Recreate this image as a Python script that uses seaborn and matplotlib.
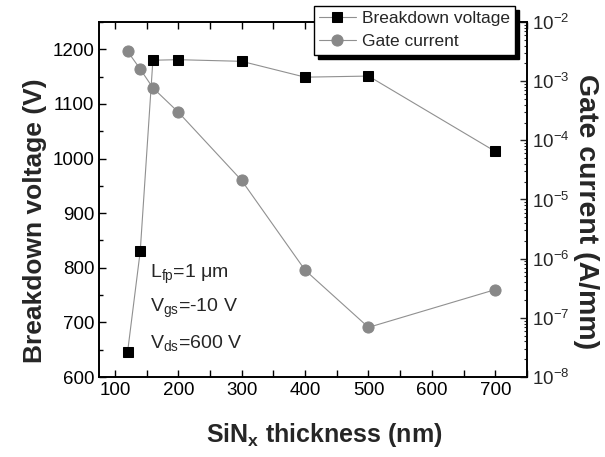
import matplotlib
matplotlib.use("Agg")
import matplotlib.pyplot as plt
import seaborn as sns
import pandas as pd
import numpy as np
from matplotlib.ticker import MultipleLocator, LogLocator, NullFormatter

thick_bv = [120, 140, 160, 200, 300, 400, 500, 700]
breakdown_v = [645, 830, 1180, 1181, 1178, 1149, 1151, 1013]
thick_ig = [120, 140, 160, 200, 300, 400, 500, 700]
gate_current = [3.2e-3, 1.6e-3, 7.7e-4, 3.0e-4, 2.1e-5, 6.4e-7, 6.9e-8, 3.0e-7]

sns.set_style("ticks")
plt.rcParams['font.family'] = ['Liberation Sans', 'DejaVu Sans']
plt.rcParams['mathtext.fontset'] = 'custom'
plt.rcParams['mathtext.rm'] = 'Liberation Sans'
plt.rcParams['mathtext.it'] = 'Liberation Sans'
plt.rcParams['mathtext.bf'] = 'Liberation Sans:bold'

df1 = pd.DataFrame({"x": thick_bv, "y": breakdown_v})
df2 = pd.DataFrame({"x": thick_ig, "y": gate_current})

fig = plt.figure(figsize=(6.05, 4.57), dpi=100)
ax = fig.add_axes([99/605, 1 - 377/457, (527-99)/605, (377-22)/457])
ax2 = ax.twinx()

sns.lineplot(data=df1, x="x", y="y", ax=ax, color="#909090", linewidth=0.8,
             marker="s", markersize=7, markerfacecolor="black", markeredgecolor="black",
             label="Breakdown voltage", legend=False)
sns.lineplot(data=df2, x="x", y="y", ax=ax2, color="#909090", linewidth=0.8,
             marker="o", markersize=8, markerfacecolor="#888888", markeredgecolor="#888888",
             label="Gate current", legend=False)

ax.set_xlim(75, 750)
ax.set_ylim(600, 1250)
ax2.set_yscale("log")
ax2.set_ylim(1e-8, 1e-2)

ax.xaxis.set_minor_locator(MultipleLocator(50))
ax.yaxis.set_major_locator(MultipleLocator(100))
ax.yaxis.set_minor_locator(MultipleLocator(50))
ax.set_xticks([100, 200, 300, 400, 500, 600, 700])
ax.tick_params(axis="both", which="both", direction="in", labelsize=13.5,
               top=True, colors="black")
ax.tick_params(axis="both", which="major", length=5, width=1)
ax.tick_params(axis="both", which="minor", length=5, width=1)
ax.tick_params(axis="y", which="minor", length=3)
ax2.yaxis.set_major_locator(LogLocator(base=10, numticks=10))
ax2.yaxis.set_minor_locator(LogLocator(base=10, subs=np.arange(2, 10), numticks=20))
ax2.yaxis.set_minor_formatter(NullFormatter())
ax2.tick_params(axis="y", which="major", direction="in", length=5, width=1, labelsize=13.5)
ax2.tick_params(axis="y", which="minor", direction="in", length=2.5, width=0.8)

for a in (ax, ax2):
    for s in a.spines.values():
        s.set_linewidth(1.2)
        s.set_color("black")
        s.set_visible(True)

ax.set_xlabel(r"SiN$_{\mathbf{x}}$ thickness (nm)", fontsize=18, fontweight="bold", labelpad=16)
ax.xaxis.label.set_x(0.526)
ax.set_ylabel("Breakdown voltage (V)", fontsize=19, fontweight="bold", labelpad=4)
ax.yaxis.label.set_y(0.44)
ax2.set_ylabel("Gate current (A/mm)", fontsize=20.5, fontweight="bold", rotation=270, labelpad=21)
ax2.yaxis.label.set_y(0.466)

ax.text(155, 787, r"L$_{\mathrm{fp}}$=1 $\mu$m", fontsize=14, va="center")
ax.text(155, 725, r"V$_{\mathrm{gs}}$=-10 V", fontsize=14, va="center")
ax.text(155, 662, r"V$_{\mathrm{ds}}$=600 V", fontsize=14, va="center")

h1, l1 = ax.get_legend_handles_labels()
h2, l2 = ax2.get_legend_handles_labels()
leg = ax2.legend(h1 + h2, l1 + l2, loc="upper left", bbox_to_anchor=(314/605, 1 - 6/457),
                 bbox_transform=fig.transFigure, fontsize=12.5, frameon=True, fancybox=False,
                 shadow={"color": "black", "alpha": 1, "ox": 3, "oy": -3}, edgecolor="black",
                 borderpad=0.3, handlelength=2.1, handletextpad=0.35, labelspacing=0.45,
                 borderaxespad=0)
leg.get_frame().set_linewidth(1)
leg.get_frame().set_alpha(1)

fig.savefig("out.png", dpi=100)
